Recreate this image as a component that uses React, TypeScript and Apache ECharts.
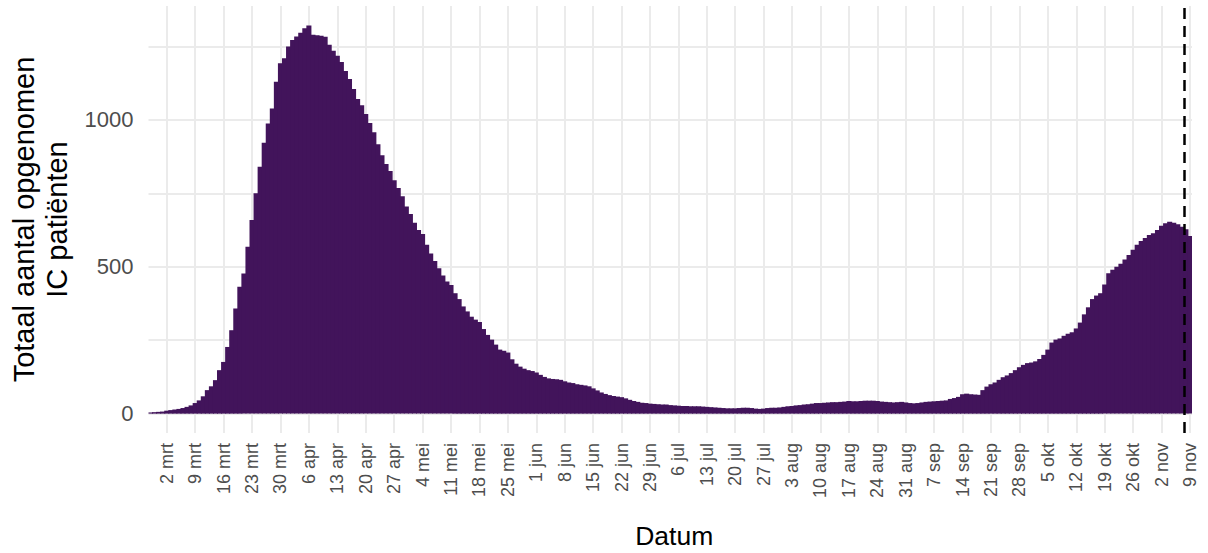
import React, { useEffect, useRef } from "react";
import * as echarts from "echarts";

// Daily totals of IC patients, 27 feb 2020 – 9 nov 2020
const FEB = [4, 5, 6];
const MRT = [7, 10, 12, 14, 16, 19, 23, 28, 36, 45, 59, 80, 93, 114, 148, 176, 227, 284, 358, 432, 477, 568, 659, 750, 841, 922, 988, 1039, 1130, 1193, 1210];
const APR = [1250, 1272, 1284, 1297, 1312, 1322, 1290, 1288, 1287, 1283, 1256, 1236, 1219, 1197, 1167, 1139, 1105, 1071, 1050, 1020, 990, 958, 917, 880, 850, 826, 795, 768, 740, 705];
const MEI = [680, 650, 625, 612, 575, 545, 520, 495, 470, 450, 438, 410, 390, 365, 348, 330, 320, 312, 288, 268, 252, 235, 218, 214, 208, 185, 170, 160, 153, 148, 145];
const JUN = [140, 132, 125, 120, 118, 117, 115, 110, 106, 104, 100, 98, 96, 93, 86, 79, 72, 67, 63, 60, 58, 56, 52, 47, 43, 40, 37, 36, 34, 33];
const JUL = [32, 31, 31, 29, 28, 27, 26, 26, 25, 25, 25, 24, 23, 22, 21, 20, 19, 18, 18, 18, 19, 20, 20, 19, 17, 16, 17, 19, 20, 20, 21];
const AUG = [23, 25, 26, 28, 29, 31, 32, 34, 36, 36, 37, 38, 39, 39, 40, 41, 43, 42, 42, 43, 44, 44, 44, 43, 41, 40, 39, 38, 39, 40, 38];
const SEP = [36, 35, 36, 38, 40, 41, 42, 43, 44, 45, 50, 53, 57, 66, 68, 66, 65, 64, 80, 92, 100, 106, 115, 124, 130, 138, 148, 158, 166, 172];
const OKT = [174, 178, 186, 200, 218, 242, 252, 256, 265, 272, 277, 290, 310, 338, 362, 390, 402, 410, 440, 478, 490, 500, 510, 525, 540, 558, 575, 588, 598, 608, 614];
const NOV = [625, 640, 648, 653, 650, 645, 636, 628, 605];

const MONTHS = ["jan", "feb", "mrt", "apr", "mei", "jun", "jul", "aug", "sep", "okt", "nov", "dec"];
const TICK_LABELS = ["2 mrt", "9 mrt", "16 mrt", "23 mrt", "30 mrt", "6 apr", "13 apr", "20 apr", "27 apr", "4 mei", "11 mei", "18 mei", "25 mei", "1 jun", "8 jun", "15 jun", "22 jun", "29 jun", "6 jul", "13 jul", "20 jul", "27 jul", "3 aug", "10 aug", "17 aug", "24 aug", "31 aug", "7 sep", "14 sep", "21 sep", "28 sep", "5 okt", "12 okt", "19 okt", "26 okt", "2 nov", "9 nov"];
const Y_LABELS = [0, 500, 1000];
const Y_GRID = [0, 250, 500, 750, 1000, 1250];
const CUTOFF_DAY = "8 nov"; // dashed line drawn at the start of this day

const FONT = "'Liberation Sans', Arial, sans-serif";
const BAR_COLOR = "#42145b";
const GRID_COLOR = "#ebebeb";

export default function App() {
  const ref = useRef<HTMLDivElement>(null);

  useEffect(() => {
    if (!ref.current) return;
    const chart = echarts.init(ref.current, undefined, { renderer: "svg" });

    const values = [...FEB, ...MRT, ...APR, ...MEI, ...JUN, ...JUL, ...AUG, ...SEP, ...OKT, ...NOV];
    const start = Date.UTC(2020, 1, 27);
    const days: string[] = values.map((_, i) => {
      const d = new Date(start + i * 86400000);
      return `${d.getUTCDate()} ${MONTHS[d.getUTCMonth()]}`;
    });
    const tickIdx = TICK_LABELS.map((l) => days.indexOf(l));
    const tickSet = new Set(tickIdx);
    const cutoff = days.indexOf(CUTOFF_DAY) - 0.5;
    const n = days.length;

    chart.setOption({
      animation: false,
      grid: { left: 148.5, right: 16, top: 6, bottom: 120, outerBoundsMode: "none" },
      xAxis: [
        {
          type: "category",
          data: days,
          boundaryGap: true,
          axisLine: { show: false, onZero: false },
          axisTick: { show: false },
          splitLine: { show: false },
          axisLabel: {
            interval: (i: number) => tickSet.has(i),
            rotate: 90,
            margin: 10,
            fontSize: 18,
            color: "#4d4d4d",
            fontFamily: FONT,
          },
          name: "Datum",
          nameLocation: "middle",
          nameGap: 89,
          nameTextStyle: { fontSize: 26.5, color: "#000", fontFamily: FONT, padding: [0, 0, 0, 8] },
        },
        {
          type: "value",
          min: -0.5,
          max: n - 0.5,
          show: false,
        },
      ],
      yAxis: {
        type: "value",
        min: -66,
        max: 1388,
        splitLine: { show: false },
        axisLine: { show: false },
        axisTick: { show: false },
        axisLabel: {
          customValues: Y_LABELS,
          formatter: (v: number) => String(v),
          margin: 15,
          fontSize: 22,
          color: "#4d4d4d",
          fontFamily: FONT,
        },
        name: "Totaal aantal opgenomen\nIC patiënten",
        nameLocation: "middle",
        nameRotate: 90,
        nameGap: 71,
        nameTextStyle: { fontSize: 29, color: "#000", fontFamily: FONT, lineHeight: 33, align: "center" },
      },
      series: [
        {
          name: "grid",
          type: "line",
          xAxisIndex: 1,
          yAxisIndex: 0,
          data: [],
          silent: true,
          z: 0,
          markLine: {
            silent: true,
            z: 0,
            symbol: "none",
            animation: false,
            label: { show: false },
            emphasis: { disabled: true },
            lineStyle: { color: GRID_COLOR, width: 2, type: "solid" },
            data: [
              ...Y_GRID.map((v) => ({ yAxis: v })),
              ...tickIdx.map((i) => ({ xAxis: i })),
            ],
          },
        },
        {
          name: "IC",
          type: "bar",
          data: values,
          barWidth: "125%",
          barGap: "-100%",
          silent: true,
          z: 2,
          itemStyle: { color: BAR_COLOR },
        },
        {
          name: "cutoff",
          type: "line",
          xAxisIndex: 1,
          yAxisIndex: 0,
          data: [],
          silent: true,
          z: 10,
          markLine: {
            silent: true,
            z: 10,
            symbol: "none",
            animation: false,
            label: { show: false },
            emphasis: { disabled: true },
            lineStyle: { color: "#000", width: 2.5, type: [11, 7] },
            data: [{ xAxis: cutoff }],
          },
        },
      ],
    });

    return () => chart.dispose();
  }, []);

  return (
    <div
      ref={ref}
      style={{ position: "fixed", left: 0, top: 0, width: 1208, height: 553, background: "#fff" }}
    />
  );
}
